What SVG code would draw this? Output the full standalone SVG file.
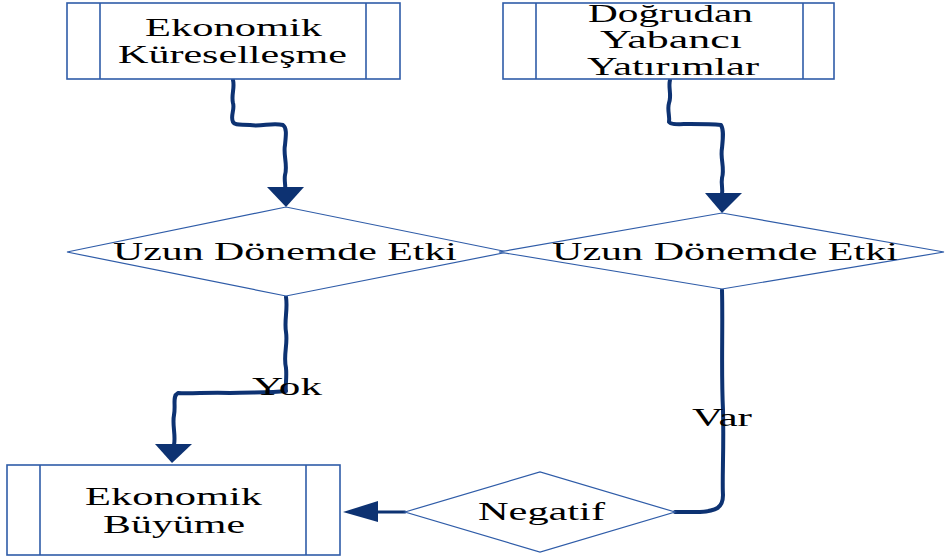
<svg xmlns="http://www.w3.org/2000/svg" width="945" height="558" viewBox="0 0 945 558">
<style>
.box{fill:#fff;stroke:#2f5ca8;stroke-width:1.6}
.dia{fill:#fff;stroke:#2f5ca8;stroke-width:1.2}
.t{font-family:"Liberation Serif","Times New Roman","DejaVu Serif",serif;font-size:26px;fill:#000}
.c{fill:none;stroke:#0d3272;stroke-width:4;stroke-linecap:round;stroke-linejoin:round}
.ah{fill:#0d3272}
</style>
<rect width="945" height="558" fill="#fff"/>
<g id="connectors">
<path class="c" d="M233,80 C235,88 231,95 233,103 C235,110 230,116 233,122 C235,126 242,124 250,125 C262,127 272,122 283,125 C287,128 286,135 285,145 C283,155 288,165 285,175 C284,181 286,186 285,190"/>
<polygon class="ah" points="267,187 304,187 286,207"/>
<path class="c" d="M670,80 C668,88 672,95 669,103 C667,110 670,116 669,122 C671,125 680,124 690,124 C700,124 712,124 721,125 C724,130 723,138 722,148 C720,158 725,168 722,178 C721,184 723,189 722,194"/>
<polygon class="ah" points="705,193 742,193 722,213"/>
<path class="c" d="M286,297 C288,310 284,320 286,332 C288,345 283,355 286,368 C287,378 285,386 286,391 C270,393 250,392 230,393 C210,392 190,394 178,393 C172,396 176,405 174,415 C172,425 176,435 174,445"/>
<polygon class="ah" points="155,444 192,444 172,463"/>
<path class="c" d="M722,290 C723,330 721,370 723,410 C724,450 722,480 723,495 C723,508 716,511 700,512 C690,512 683,512 675,512"/>
<path class="c" style="stroke-width:3" d="M405,512 L375,512"/>
<polygon class="ah" points="343,512 378,501 378,522"/>
</g>
<g id="n1">
<rect class="box" x="67" y="3" width="333" height="76"/>
<line class="box" x1="100" y1="3" x2="100" y2="79"/>
<line class="box" x1="366" y1="3" x2="366" y2="79"/>
<text class="t" x="145" y="36" textLength="177" lengthAdjust="spacingAndGlyphs">Ekonomik</text>
<text class="t" x="118" y="63" textLength="229" lengthAdjust="spacingAndGlyphs">Küreselleşme</text>
</g>
<g id="n2">
<rect class="box" x="503" y="3" width="331" height="76"/>
<line class="box" x1="536" y1="3" x2="536" y2="79"/>
<line class="box" x1="803" y1="3" x2="803" y2="79"/>
<text class="t" x="588" y="22" textLength="165" lengthAdjust="spacingAndGlyphs">Doğrudan</text>
<text class="t" x="600" y="48" textLength="142" lengthAdjust="spacingAndGlyphs">Yabancı</text>
<text class="t" x="587" y="75" textLength="172" lengthAdjust="spacingAndGlyphs">Yatırımlar</text>
</g>
<g id="d1">
<polygon class="dia" points="67,252 286,207 508,252 286,296"/>
<text class="t" x="113" y="260" textLength="344" lengthAdjust="spacingAndGlyphs">Uzun Dönemde Etki</text>
</g>
<g id="d2">
<polygon class="dia" points="499,252 722,213 944,252 722,289"/>
<text class="t" x="552" y="260" textLength="346" lengthAdjust="spacingAndGlyphs">Uzun Dönemde Etki</text>
</g>
<g id="n3">
<rect class="box" x="7" y="465" width="333" height="90"/>
<line class="box" x1="40" y1="465" x2="40" y2="555"/>
<line class="box" x1="306" y1="465" x2="306" y2="555"/>
<text class="t" x="85" y="505" textLength="177" lengthAdjust="spacingAndGlyphs">Ekonomik</text>
<text class="t" x="103" y="533" textLength="142" lengthAdjust="spacingAndGlyphs">Büyüme</text>
</g>
<g id="d3">
<polygon class="dia" points="405,512 540,472 675,512 540,552"/>
<text class="t" x="478" y="520" textLength="127" lengthAdjust="spacingAndGlyphs">Negatif</text>
</g>
<g id="labels">
<text class="t" x="252" y="395" textLength="70" lengthAdjust="spacingAndGlyphs">Yok</text>
<text class="t" x="692" y="426" textLength="60" lengthAdjust="spacingAndGlyphs">Var</text>
</g>
</svg>
